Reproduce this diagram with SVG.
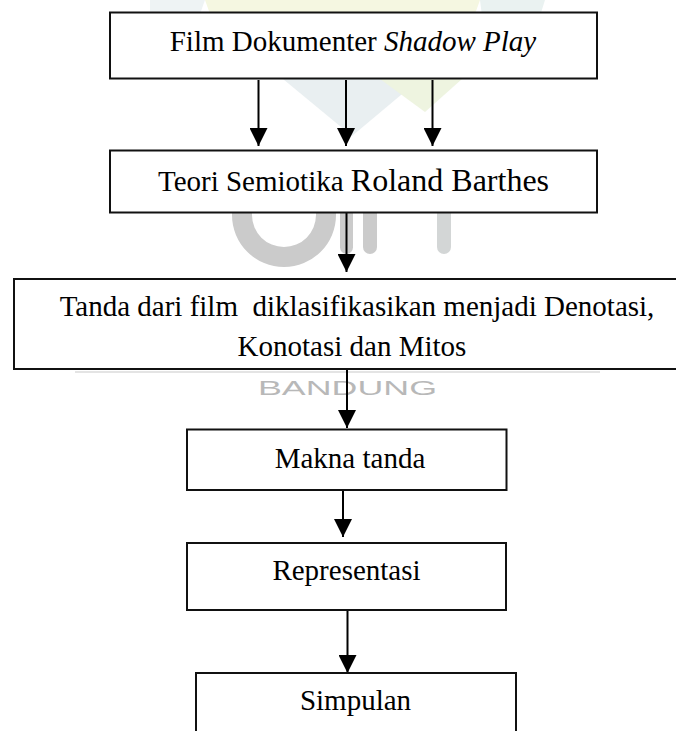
<svg xmlns="http://www.w3.org/2000/svg" width="676" height="731" viewBox="0 0 676 731">
  <style>
    .box { fill: #ffffff; stroke: #111111; stroke-width: 2; }
    .t { font-family: "Liberation Serif", "Times New Roman", serif; font-size: 29px; fill: #000000; text-anchor: middle; }
    .conn { stroke: #000000; stroke-width: 2; fill: none; }
    .wm { fill: #cbcbcb; }
  </style>
  <defs>
    <marker id="ah" markerUnits="userSpaceOnUse" markerWidth="18" markerHeight="18" viewBox="0 0 16 16" refX="16" refY="8" orient="auto">
      <path d="M0,0 L16,8 L0,16 Z" fill="#000000"/>
    </marker>
  </defs>
  <rect width="676" height="731" fill="#ffffff"/>

  <!-- faint watermark background -->
  <g id="watermark">
    <path d="M150,0 H205 L200,14 H150 Z" fill="#eef3f4"/>
    <path d="M205,0 H480 L475,14 H210 Z" fill="#f5f7e1"/>
    <path d="M480,0 H545 L540,16 H482 Z" fill="#eaf2f1"/>
    <path d="M283,79 L420,79 L352,136 Z" fill="#e9eff1"/>
    <path d="M380,79 L462,79 L425,112 Z" fill="#eef4e0"/>
    <path d="M232,200 V215 A52,52 0 0 0 336,215 V200 H316 V215 A32,32 0 0 1 252,215 V200 Z" class="wm"/>
    <rect x="340" y="200" width="13" height="54" rx="6.5" class="wm"/>
    <rect x="363" y="200" width="14" height="54" rx="7" class="wm"/>
    <rect x="437" y="200" width="14" height="54" rx="7" fill="#d3d6d6"/>
    <line x1="75" y1="372" x2="600" y2="372" stroke="#e4e4e4" stroke-width="2"/>
    <text x="258" y="395" textLength="179" lengthAdjust="spacingAndGlyphs" font-family="'Liberation Sans', 'Open Sans', sans-serif" font-size="21" fill="#b8b8b8">BANDUNG</text>
  </g>

  <g id="connectors">
    <line class="conn" x1="258.5" y1="80" x2="258.5" y2="146" marker-end="url(#ah)"/>
    <line class="conn" x1="346" y1="80" x2="346" y2="146" marker-end="url(#ah)"/>
    <line class="conn" x1="432.5" y1="80" x2="432.5" y2="146" marker-end="url(#ah)"/>
    <line class="conn" x1="346.5" y1="213" x2="346.5" y2="272" marker-end="url(#ah)"/>
    <line class="conn" x1="347" y1="369" x2="347" y2="428" marker-end="url(#ah)"/>
    <line class="conn" x1="343" y1="490" x2="343" y2="537" marker-end="url(#ah)"/>
    <line class="conn" x1="347.5" y1="605" x2="347.5" y2="673" marker-end="url(#ah)"/>
  </g>

  <g id="node-film">
    <rect class="box" x="110" y="12.5" width="487" height="66"/>
    <text class="t" x="353" y="51">Film Dokumenter <tspan font-style="italic">Shadow Play</tspan></text>
  </g>

  <g id="node-teori">
    <rect class="box" x="110" y="150.5" width="487" height="62"/>
    <text class="t" x="353.5" y="191">Teori Semiotika <tspan font-size="32">Roland Barthes</tspan></text>
  </g>

  <g id="node-tanda">
    <rect class="box" x="14" y="279" width="700" height="90"/>
    <text class="t" x="357" y="316" xml:space="preserve">Tanda dari film  diklasifikasikan menjadi Denotasi,</text>
    <text class="t" x="352" y="356">Konotasi dan Mitos</text>
  </g>

  <g id="node-makna">
    <rect class="box" x="187" y="429.5" width="319.5" height="60.5"/>
    <text class="t" x="350" y="468">Makna tanda</text>
  </g>

  <g id="node-representasi">
    <rect class="box" x="187" y="543" width="319" height="67"/>
    <text class="t" x="346.5" y="580">Representasi</text>
  </g>

  <g id="node-simpulan">
    <rect class="box" x="196" y="673" width="320" height="80"/>
    <text class="t" x="355.5" y="710">Simpulan</text>
  </g>
</svg>
